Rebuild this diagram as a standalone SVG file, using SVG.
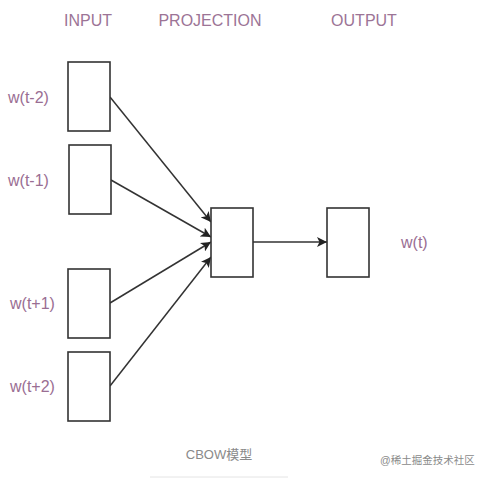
<svg xmlns="http://www.w3.org/2000/svg" width="485" height="478" viewBox="0 0 485 478">
<style>
.box{fill:#fff;stroke:#333;stroke-width:1.6}
.hdr{font-family:"Liberation Sans",Arial,sans-serif;font-size:16px;fill:#9c7496;text-anchor:middle}
.lbl{font-family:"Liberation Sans",Arial,sans-serif;font-size:16px;fill:#9a6e93}
.edge{stroke:#333;stroke-width:1.5;fill:none;marker-end:url(#ah)}
.cap{font-family:"Liberation Sans","Noto Sans CJK SC",sans-serif;fill:#8a8a8a}
</style>
<defs>
<marker id="ah" viewBox="0 0 10 10" refX="10" refY="5" markerWidth="10" markerHeight="10" markerUnits="userSpaceOnUse" orient="auto">
<path d="M0,0 L10,5 L0,10 L2.5,5 z" fill="#222"/>
</marker>
</defs>
<rect width="485" height="478" fill="#fff"/>
<text class="hdr" x="88" y="26">INPUT</text>
<text class="hdr" x="210" y="26">PROJECTION</text>
<text class="hdr" x="364" y="26">OUTPUT</text>
<g id="edges">
<line class="edge" x1="110" y1="97" x2="211" y2="222"/>
<line class="edge" x1="111" y1="180" x2="211" y2="237"/>
<line class="edge" x1="110" y1="303" x2="211" y2="242"/>
<line class="edge" x1="110" y1="386" x2="211" y2="257"/>
<line class="edge" x1="253" y1="242" x2="327" y2="242"/>
</g>
<g id="in1"><rect class="box" x="68" y="62" width="42" height="69"/><text class="lbl" x="8" y="103">w(t-2)</text></g>
<g id="in2"><rect class="box" x="69" y="145" width="42" height="69"/><text class="lbl" x="8" y="186">w(t-1)</text></g>
<g id="in3"><rect class="box" x="68" y="269" width="42" height="69"/><text class="lbl" x="10" y="309">w(t+1)</text></g>
<g id="in4"><rect class="box" x="68" y="352" width="42" height="69"/><text class="lbl" x="10" y="392">w(t+2)</text></g>
<g id="proj"><rect class="box" x="211" y="208" width="42" height="69"/></g>
<g id="out"><rect class="box" x="327" y="208" width="42" height="69"/><text class="lbl" x="401" y="248">w(t)</text></g>
<text class="cap" x="219" y="459" font-size="13" text-anchor="middle">CBOW模型</text>
<line x1="150" y1="477" x2="288" y2="477" stroke="#e4e4e4" stroke-width="1"/>
<text class="cap" x="380" y="464" font-size="10.5" fill="#999">@稀土掘金技术社区</text>
</svg>
